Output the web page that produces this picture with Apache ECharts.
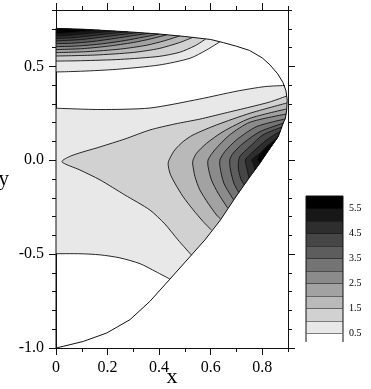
<!DOCTYPE html>
<html>
<head>
<meta charset="utf-8">
<script src="https://cdn.jsdelivr.net/npm/echarts@6.0.0/dist/echarts.min.js"></script>
<style>
  html, body { margin: 0; padding: 0; background: #fff; }
  #chart { width: 371px; height: 389px; }
</style>
</head>
<body>
<div id="chart"></div>
<script>
// contour levels (0.5 steps), colour bar edges and tick labels
const levels = [0.5, 1, 1.5, 2, 2.5, 3, 3.5, 4, 4.5, 5, 5.5];
const barEdges = [0, 0.5, 1, 1.5, 2, 2.5, 3, 3.5, 4, 4.5, 5, 5.5, 6];
const barLabels = [0.5, 1.5, 2.5, 3.5, 4.5, 5.5];
const xLabels = [0, 0.2, 0.4, 0.6, 0.8];
const yLabels = [-1, -0.5, 0, 0.5];

// outline of the domain, clockwise from (0,-1)
const boundary = [
  [0, -1.0], [0, 0.702], [0.1, 0.698], [0.2, 0.690], [0.3, 0.682], [0.4, 0.672],
  [0.5, 0.659], [0.6, 0.643], [0.65, 0.626], [0.7, 0.607], [0.75, 0.585], [0.8, 0.545],
  [0.83, 0.508], [0.86, 0.460], [0.88, 0.415], [0.892, 0.37], [0.897, 0.32], [0.895, 0.267],
  [0.890, 0.224], [0.881, 0.197], [0.862, 0.126], [0.826, 0.055], [0.791, -0.016],
  [0.753, -0.087], [0.698, -0.194], [0.638, -0.318], [0.578, -0.424], [0.526, -0.504],
  [0.442, -0.633], [0.364, -0.752], [0.287, -0.849], [0.197, -0.920], [0.106, -0.965],
  [0.028, -0.991]
];

// contours along the top edge, levels 0.5 .. 5.5 (top edge -> left edge)
const topLines = [
  [[0.636, 0.631], [0.584, 0.587], [0.52, 0.543], [0.40, 0.507], [0.235, 0.484], [0.1, 0.474], [0, 0.470]],
  [[0.58, 0.645], [0.54, 0.61], [0.48, 0.575], [0.40, 0.553], [0.25, 0.537], [0.1, 0.530], [0, 0.528]],
  [[0.53, 0.654], [0.48, 0.627], [0.40, 0.595], [0.3, 0.574], [0.15, 0.560], [0, 0.555]],
  [[0.48, 0.662], [0.42, 0.636], [0.35, 0.612], [0.25, 0.592], [0.12, 0.578], [0, 0.573]],
  [[0.43, 0.668], [0.37, 0.647], [0.30, 0.627], [0.2, 0.607], [0.1, 0.594], [0, 0.589]],
  [[0.40, 0.672], [0.34, 0.656], [0.27, 0.638], [0.18, 0.620], [0.08, 0.608], [0, 0.605]],
  [[0.36, 0.676], [0.30, 0.664], [0.23, 0.649], [0.14, 0.632], [0.06, 0.623], [0, 0.621]],
  [[0.32, 0.680], [0.26, 0.670], [0.19, 0.658], [0.1, 0.643], [0, 0.635]],
  [[0.28, 0.684], [0.22, 0.676], [0.15, 0.665], [0.07, 0.653], [0, 0.648]],
  [[0.23, 0.688], [0.17, 0.681], [0.1, 0.672], [0.04, 0.664], [0, 0.661]],
  [[0.17, 0.693], [0.12, 0.688], [0.06, 0.680], [0, 0.674]]
];

// level 0.5 in the middle: upper branch (left -> right), lower branch (right -> left)
const midUpper = [[0, 0.277], [0.171, 0.270], [0.364, 0.278], [0.558, 0.326], [0.702, 0.368], [0.81, 0.392], [0.888, 0.398]];
const midLower = [[0.442, -0.633], [0.388, -0.594], [0.326, -0.551], [0.248, -0.520], [0.171, -0.504], [0.093, -0.498], [0, -0.498]];

// level 1.0 wedge: lower edge -> tip -> upper edge
const wedge = [
  [0.526, -0.506], [0.473, -0.424], [0.422, -0.339], [0.364, -0.265], [0.267, -0.185],
  [0.171, -0.105], [0.093, -0.052], [0.023, -0.008], [0.062, 0.025], [0.171, 0.071],
  [0.267, 0.113], [0.364, 0.161], [0.461, 0.193], [0.558, 0.219], [0.655, 0.251],
  [0.752, 0.283], [0.829, 0.310], [0.895, 0.342]
];

// right-hand lobe, levels 1.5 .. 5.5 (lower end -> upper end)
const lobeLines = [
  [[0.603, -0.372], [0.571, -0.327], [0.532, -0.264], [0.493, -0.194], [0.461, -0.122], [0.442, -0.069], [0.435, -0.016], [0.445, 0.019], [0.461, 0.055], [0.493, 0.099], [0.532, 0.135], [0.623, 0.188], [0.752, 0.250], [0.896, 0.305]],
  [[0.638, -0.313], [0.623, -0.292], [0.590, -0.229], [0.558, -0.158], [0.539, -0.087], [0.530, -0.016], [0.532, 0.002], [0.545, 0.037], [0.584, 0.090], [0.648, 0.152], [0.752, 0.223], [0.895, 0.273]],
  [[0.666, -0.255], [0.629, -0.176], [0.603, -0.105], [0.590, -0.034], [0.590, 0.002], [0.616, 0.055], [0.674, 0.135], [0.752, 0.202], [0.893, 0.246]],
  [[0.689, -0.211], [0.651, -0.122], [0.636, -0.034], [0.636, 0.002], [0.655, 0.046], [0.700, 0.108], [0.778, 0.179], [0.890, 0.220]],
  [[0.709, -0.172], [0.690, -0.122], [0.677, -0.052], [0.674, 0.002], [0.687, 0.037], [0.726, 0.090], [0.791, 0.152], [0.884, 0.198]],
  [[0.730, -0.131], [0.716, -0.096], [0.707, -0.034], [0.713, 0.019], [0.752, 0.072], [0.803, 0.135], [0.878, 0.177]],
  [[0.749, -0.096], [0.739, -0.034], [0.735, 0.002], [0.765, 0.046], [0.817, 0.108], [0.872, 0.156]],
  [[0.772, -0.052], [0.765, -0.016], [0.759, 0.002], [0.791, 0.037], [0.829, 0.081], [0.866, 0.135]],
  [[0.790, -0.016], [0.781, 0.002], [0.787, 0.023], [0.810, 0.065], [0.860, 0.119]]
];

const serif = 'Liberation Serif, Times New Roman, serif';

function grayOf(k) {
  const g = Math.round(255 * (1 - k / 11));
  return 'rgb(' + g + ',' + g + ',' + g + ')';
}

// superlevel regions, painted from low to high level
const regions = [];
levels.forEach((lv, k) => {
  regions.push({ level: lv, parts: [topLines[k]] });
  if (k === 0) regions.push({ level: lv, parts: [midUpper, midLower] });
  else if (k === 1) regions.push({ level: lv, parts: [wedge] });
  else regions.push({ level: lv, parts: [lobeLines[k - 2]] });
});
const allLines = [...topLines, midUpper, midLower, wedge, ...lobeLines];

// where a point sits on the outline (segment index + fraction), in pixels
function locate(bnd, p) {
  let best = { d: Infinity, i: 0, t: 0 };
  for (let i = 0; i < bnd.length; i++) {
    const a = bnd[i], b = bnd[(i + 1) % bnd.length];
    const dx = b[0] - a[0], dy = b[1] - a[1];
    const len2 = dx * dx + dy * dy || 1;
    let t = ((p[0] - a[0]) * dx + (p[1] - a[1]) * dy) / len2;
    t = Math.max(0, Math.min(1, t));
    const qx = a[0] + t * dx, qy = a[1] + t * dy;
    const d = Math.hypot(p[0] - qx, p[1] - qy);
    if (d < best.d) best = { d: d, i: i, t: t };
  }
  return best;
}

// outline vertices met when going clockwise from P to Q
function walk(bnd, P, Q) {
  const out = [];
  if (P.i === Q.i && Q.t >= P.t) return out;
  let k = P.i;
  do {
    k = (k + 1) % bnd.length;
    out.push(bnd[k]);
  } while (k !== Q.i);
  return out;
}

function renderFill(params, api) {
  const reg = regions[params.dataIndex];
  const bnd = boundary.map(p => api.coord(p));
  const pts = [];
  reg.parts.forEach((part, j) => {
    const line = part.map(p => api.coord(p));
    pts.push(...line);
    const next = reg.parts[(j + 1) % reg.parts.length];
    pts.push(...walk(bnd, locate(bnd, line[line.length - 1]), locate(bnd, api.coord(next[0]))));
  });
  return {
    type: 'polygon',
    shape: { points: pts },
    style: { fill: grayOf(Math.round(reg.level * 2)), stroke: null }
  };
}

function renderLine(params, api) {
  const line = allLines[params.dataIndex].map(p => api.coord(p));
  return {
    type: 'polyline',
    shape: { points: line, smooth: 0.25 },
    style: { fill: null, stroke: '#111', lineWidth: 0.9 }
  };
}

function renderOutline(params, api) {
  return {
    type: 'polygon',
    shape: { points: boundary.map(p => api.coord(p)) },
    style: { fill: null, stroke: '#111', lineWidth: 1 }
  };
}

const barMin = 0.16;
function renderBar(params, api) {
  const lo = Math.max(barEdges[params.dataIndex], barMin);
  const hi = barEdges[params.dataIndex + 1];
  const p0 = api.coord([0, lo]);
  const p1 = api.coord([1, hi]);
  const k = params.dataIndex;
  return {
    type: 'group',
    children: [
      { type: 'rect', shape: { x: p0[0], y: p1[1], width: p1[0] - p0[0], height: p0[1] - p1[1] }, style: { fill: grayOf(k) } },
      { type: 'line', shape: { x1: p0[0], y1: p1[1], x2: p1[0], y2: p1[1] }, style: { stroke: '#111', lineWidth: 1 } },
      { type: 'line', shape: { x1: p0[0], y1: p0[1], x2: p0[0], y2: p1[1] }, style: { stroke: '#111', lineWidth: 1 } },
      { type: 'line', shape: { x1: p1[0], y1: p0[1], x2: p1[0], y2: p1[1] }, style: { stroke: '#111', lineWidth: 1 } }
    ]
  };
}

function frameX(position, withLabels, major) {
  return {
    type: 'value', gridIndex: 0, position: position, min: 0, max: 0.9, interval: 0.1,
    axisLine: { show: !major, onZero: false, lineStyle: { color: '#111', width: 1 } },
    axisTick: major
      ? { show: true, customValues: xLabels, length: 7, inside: false, lineStyle: { color: '#111' } }
      : { show: true, length: 4, inside: false, lineStyle: { color: '#111' } },
    axisLabel: withLabels
      ? { show: true, customValues: xLabels, formatter: v => (v === 0 ? '0' : v.toFixed(1)), fontFamily: serif, fontSize: 16, color: '#000', margin: 12 }
      : { show: false },
    splitLine: { show: false },
    name: withLabels ? 'x' : '',
    nameLocation: 'middle', nameGap: 18, nameMoveOverlap: false,
    nameTextStyle: { fontFamily: serif, fontSize: 22, color: '#000' }
  };
}

function frameY(position, withLabels, major) {
  return {
    type: 'value', gridIndex: 0, position: position, min: -1, max: 0.8, interval: 0.1,
    axisLine: { show: !major, onZero: false, lineStyle: { color: '#111', width: 1 } },
    axisTick: major
      ? { show: true, customValues: yLabels, length: 7, inside: false, lineStyle: { color: '#111' } }
      : { show: true, length: 4, inside: false, lineStyle: { color: '#111' } },
    axisLabel: withLabels
      ? { show: true, customValues: yLabels, formatter: v => v.toFixed(1), fontFamily: serif, fontSize: 16, color: '#000', margin: 12 }
      : { show: false },
    splitLine: { show: false },
    name: withLabels ? 'y' : '',
    nameLocation: 'middle', nameGap: 47, nameRotate: 0, nameMoveOverlap: false,
    nameTextStyle: { fontFamily: serif, fontSize: 21, color: '#000' }
  };
}

const chart = echarts.init(document.getElementById('chart'), null, { renderer: 'canvas' });
chart.setOption({
  animation: false,
  backgroundColor: '#fff',
  grid: [
    { left: 56, top: 10, width: 232, height: 338, outerBoundsMode: 'none', containLabel: false },
    { left: 306, top: 196, width: 37, height: 146, outerBoundsMode: 'none', containLabel: false }
  ],
  xAxis: [
    frameX('bottom', true, false),
    frameX('bottom', false, true),
    frameX('top', false, false),
    frameX('top', false, true),
    { type: 'value', gridIndex: 1, min: 0, max: 1, show: false }
  ],
  yAxis: [
    frameY('left', true, false),
    frameY('left', false, true),
    frameY('right', false, false),
    frameY('right', false, true),
    {
      type: 'value', gridIndex: 1, position: 'right', min: barMin, max: 6,
      axisLine: { show: false },
      axisTick: { show: true, customValues: levels, length: 4, inside: false, lineStyle: { color: '#111' } },
      axisLabel: { show: true, customValues: barLabels, formatter: v => v.toFixed(1), fontFamily: serif, fontSize: 10, color: '#000', margin: 6 },
      splitLine: { show: false }
    }
  ],
  series: [
    {
      type: 'custom', xAxisIndex: 0, yAxisIndex: 0, z: 1,
      renderItem: renderFill, data: regions.map(() => [0.4, 0])
    },
    {
      type: 'custom', xAxisIndex: 0, yAxisIndex: 0, z: 2,
      renderItem: renderLine, data: allLines.map(() => [0.4, 0])
    },
    {
      type: 'custom', xAxisIndex: 0, yAxisIndex: 0, z: 3,
      renderItem: renderOutline, data: [[0.4, 0]]
    },
    {
      type: 'custom', xAxisIndex: 4, yAxisIndex: 4, z: 2,
      renderItem: renderBar, data: barEdges.slice(0, -1).map(() => [0.5, 1])
    }
  ]
});
</script>
</body>
</html>
